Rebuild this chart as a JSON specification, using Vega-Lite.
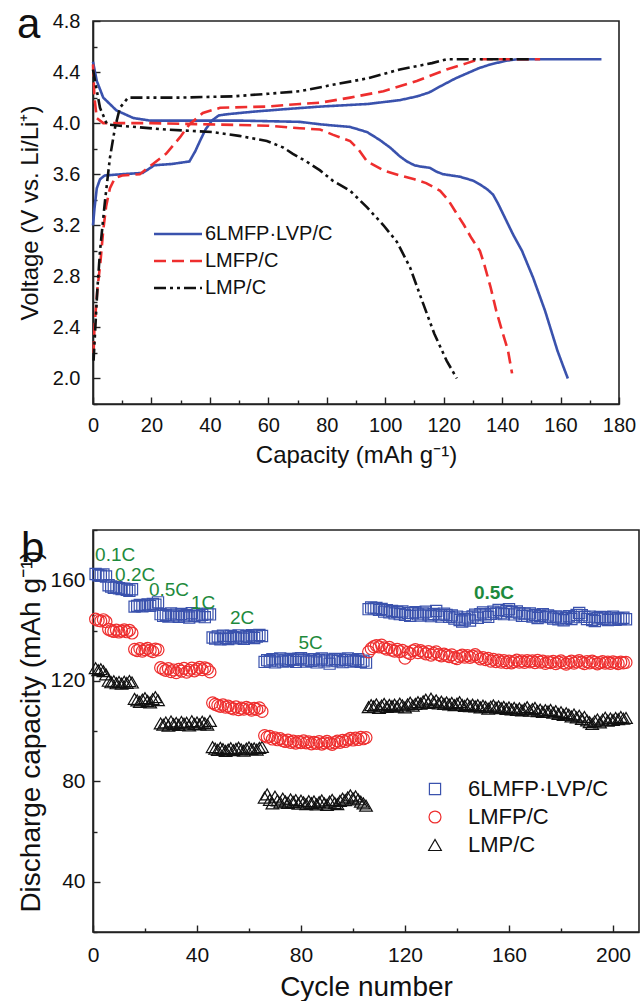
{
"$schema": "https://vega.github.io/schema/vega-lite/v6.json",
"padding": {"left": 16, "top": 3, "right": 0, "bottom": 0},
"spacing": 59,
"resolve": {
  "scale": {"color": "independent", "shape": "independent", "strokeDash": "independent", "size": "independent"},
  "legend": {"color": "independent", "shape": "independent", "strokeDash": "independent", "size": "independent"}
},
"config": {
  "font": "Liberation Sans",
  "view": {"stroke": "#222", "strokeWidth": 1.6},
  "axis": {"domainColor": "#222", "domainWidth": 1.6, "tickColor": "#222", "tickWidth": 1.4, "labelColor": "#111", "titleColor": "#111", "grid": false, "labelFont": "Liberation Sans", "titleFont": "Liberation Sans", "titleFontWeight": "normal"},
  "legend": {"labelFont": "Liberation Sans", "labelColor": "#111"}
},
"vconcat": [
{
  "width": 526, "height": 383,
  "encoding": {
    "x": {"field": "x", "type": "quantitative", "scale": {"domain": [0, 180], "nice": false, "zero": false},
      "axis": {"title": "Capacity (mAh g⁻¹)", "values": [0,10,20,30,40,50,60,70,80,90,100,110,120,130,140,150,160,170,180], "labelExpr": "datum.value % 20 === 0 ? datum.label : ''", "tickSize": {"condition": {"test": "datum.value % 20 === 0", "value": -7}, "value": -4}, "labelPadding": 18, "labelFontSize": 20, "titleFontSize": 24, "titlePadding": 8, "labelFlush": false}},
    "y": {"field": "y", "type": "quantitative", "scale": {"domain": [1.8, 4.8], "nice": false, "zero": false},
      "axis": {"title": "Voltage (V vs. Li/Li⁺)", "values": [1.8,2.0,2.2,2.4,2.6,2.8,3.0,3.2,3.4,3.6,3.8,4.0,4.2,4.4,4.6,4.8], "labelExpr": "round(datum.value*10) % 4 === 0 ? format(datum.value, '.1f') : ''", "tickSize": {"condition": {"test": "round(datum.value*10) % 4 === 0", "value": -7}, "value": -4}, "labelPadding": 20, "labelFontSize": 20, "titleFontSize": 24, "titlePadding": 10, "labelFlush": false}}
  },
  "layer": [
  {
  "data": {"values": [
{"s":"6LMFP·LVP/C","b":"c","i":1,"x":0,"y":3.2},{"s":"6LMFP·LVP/C","b":"c","i":2,"x":0.5,"y":3.33},{"s":"6LMFP·LVP/C","b":"c","i":3,"x":1.3,"y":3.49},{"s":"6LMFP·LVP/C","b":"c","i":4,"x":2.4,"y":3.56},{"s":"6LMFP·LVP/C","b":"c","i":5,"x":4,"y":3.59},{"s":"6LMFP·LVP/C","b":"c","i":6,"x":10,"y":3.6},{"s":"6LMFP·LVP/C","b":"c","i":7,"x":17,"y":3.61},{"s":"6LMFP·LVP/C","b":"c","i":8,"x":19,"y":3.64},{"s":"6LMFP·LVP/C","b":"c","i":9,"x":21,"y":3.67},{"s":"6LMFP·LVP/C","b":"c","i":10,"x":27,"y":3.68},{"s":"6LMFP·LVP/C","b":"c","i":11,"x":33,"y":3.7},{"s":"6LMFP·LVP/C","b":"c","i":12,"x":35,"y":3.78},{"s":"6LMFP·LVP/C","b":"c","i":13,"x":36.6,"y":3.86},{"s":"6LMFP·LVP/C","b":"c","i":14,"x":38.5,"y":3.95},{"s":"6LMFP·LVP/C","b":"c","i":15,"x":40.7,"y":4.02},{"s":"6LMFP·LVP/C","b":"c","i":16,"x":43,"y":4.06},{"s":"6LMFP·LVP/C","b":"c","i":17,"x":46,"y":4.07},{"s":"6LMFP·LVP/C","b":"c","i":18,"x":55,"y":4.09},{"s":"6LMFP·LVP/C","b":"c","i":19,"x":66,"y":4.11},{"s":"6LMFP·LVP/C","b":"c","i":20,"x":78,"y":4.13},{"s":"6LMFP·LVP/C","b":"c","i":21,"x":94,"y":4.15},{"s":"6LMFP·LVP/C","b":"c","i":22,"x":105,"y":4.18},{"s":"6LMFP·LVP/C","b":"c","i":23,"x":111,"y":4.21},{"s":"6LMFP·LVP/C","b":"c","i":24,"x":115,"y":4.24},{"s":"6LMFP·LVP/C","b":"c","i":25,"x":119,"y":4.29},{"s":"6LMFP·LVP/C","b":"c","i":26,"x":124,"y":4.35},{"s":"6LMFP·LVP/C","b":"c","i":27,"x":128,"y":4.39},{"s":"6LMFP·LVP/C","b":"c","i":28,"x":132,"y":4.43},{"s":"6LMFP·LVP/C","b":"c","i":29,"x":136,"y":4.46},{"s":"6LMFP·LVP/C","b":"c","i":30,"x":141.7,"y":4.49},{"s":"6LMFP·LVP/C","b":"c","i":31,"x":145,"y":4.5},{"s":"6LMFP·LVP/C","b":"c","i":32,"x":174,"y":4.5},
{"s":"6LMFP·LVP/C","b":"d","i":1,"x":0,"y":4.48},{"s":"6LMFP·LVP/C","b":"d","i":2,"x":1.3,"y":4.33},{"s":"6LMFP·LVP/C","b":"d","i":3,"x":3.5,"y":4.2},{"s":"6LMFP·LVP/C","b":"d","i":4,"x":8,"y":4.1},{"s":"6LMFP·LVP/C","b":"d","i":5,"x":13.8,"y":4.04},{"s":"6LMFP·LVP/C","b":"d","i":6,"x":19.5,"y":4.02},{"s":"6LMFP·LVP/C","b":"d","i":7,"x":30,"y":4.02},{"s":"6LMFP·LVP/C","b":"d","i":8,"x":50,"y":4.02},{"s":"6LMFP·LVP/C","b":"d","i":9,"x":70.8,"y":4.01},{"s":"6LMFP·LVP/C","b":"d","i":10,"x":78,"y":3.99},{"s":"6LMFP·LVP/C","b":"d","i":11,"x":88,"y":3.97},{"s":"6LMFP·LVP/C","b":"d","i":12,"x":93.8,"y":3.93},{"s":"6LMFP·LVP/C","b":"d","i":13,"x":98,"y":3.87},{"s":"6LMFP·LVP/C","b":"d","i":14,"x":101.6,"y":3.81},{"s":"6LMFP·LVP/C","b":"d","i":15,"x":105,"y":3.74},{"s":"6LMFP·LVP/C","b":"d","i":16,"x":107.4,"y":3.7},{"s":"6LMFP·LVP/C","b":"d","i":17,"x":110,"y":3.67},{"s":"6LMFP·LVP/C","b":"d","i":18,"x":112,"y":3.66},{"s":"6LMFP·LVP/C","b":"d","i":19,"x":115.3,"y":3.65},{"s":"6LMFP·LVP/C","b":"d","i":20,"x":117.5,"y":3.62},{"s":"6LMFP·LVP/C","b":"d","i":21,"x":119.8,"y":3.6},{"s":"6LMFP·LVP/C","b":"d","i":22,"x":125.6,"y":3.58},{"s":"6LMFP·LVP/C","b":"d","i":23,"x":130,"y":3.55},{"s":"6LMFP·LVP/C","b":"d","i":24,"x":132.4,"y":3.52},{"s":"6LMFP·LVP/C","b":"d","i":25,"x":135,"y":3.48},{"s":"6LMFP·LVP/C","b":"d","i":26,"x":136.9,"y":3.44},{"s":"6LMFP·LVP/C","b":"d","i":27,"x":138.6,"y":3.37},{"s":"6LMFP·LVP/C","b":"d","i":28,"x":140.3,"y":3.29},{"s":"6LMFP·LVP/C","b":"d","i":29,"x":143.7,"y":3.13},{"s":"6LMFP·LVP/C","b":"d","i":30,"x":146.8,"y":3.0},{"s":"6LMFP·LVP/C","b":"d","i":31,"x":150.6,"y":2.79},{"s":"6LMFP·LVP/C","b":"d","i":32,"x":154.7,"y":2.53},{"s":"6LMFP·LVP/C","b":"d","i":33,"x":158.9,"y":2.22},{"s":"6LMFP·LVP/C","b":"d","i":34,"x":161,"y":2.09},{"s":"6LMFP·LVP/C","b":"d","i":35,"x":162.5,"y":2.0},
{"s":"LMFP/C","b":"c","i":1,"x":0.2,"y":2.2},{"s":"LMFP/C","b":"c","i":2,"x":0.5,"y":2.4},{"s":"LMFP/C","b":"c","i":3,"x":1.5,"y":2.7},{"s":"LMFP/C","b":"c","i":4,"x":2.5,"y":2.9},{"s":"LMFP/C","b":"c","i":5,"x":3.5,"y":3.16},{"s":"LMFP/C","b":"c","i":6,"x":4.5,"y":3.35},{"s":"LMFP/C","b":"c","i":7,"x":5.8,"y":3.49},{"s":"LMFP/C","b":"c","i":8,"x":7.5,"y":3.57},{"s":"LMFP/C","b":"c","i":9,"x":10,"y":3.59},{"s":"LMFP/C","b":"c","i":10,"x":16,"y":3.6},{"s":"LMFP/C","b":"c","i":11,"x":20.5,"y":3.68},{"s":"LMFP/C","b":"c","i":12,"x":25,"y":3.76},{"s":"LMFP/C","b":"c","i":13,"x":29.8,"y":3.89},{"s":"LMFP/C","b":"c","i":14,"x":33,"y":3.99},{"s":"LMFP/C","b":"c","i":15,"x":37.6,"y":4.08},{"s":"LMFP/C","b":"c","i":16,"x":43.5,"y":4.12},{"s":"LMFP/C","b":"c","i":17,"x":59.5,"y":4.13},{"s":"LMFP/C","b":"c","i":18,"x":70.8,"y":4.15},{"s":"LMFP/C","b":"c","i":19,"x":77.7,"y":4.16},{"s":"LMFP/C","b":"c","i":20,"x":88,"y":4.2},{"s":"LMFP/C","b":"c","i":21,"x":99.4,"y":4.25},{"s":"LMFP/C","b":"c","i":22,"x":110.8,"y":4.33},{"s":"LMFP/C","b":"c","i":23,"x":121,"y":4.42},{"s":"LMFP/C","b":"c","i":24,"x":128,"y":4.47},{"s":"LMFP/C","b":"c","i":25,"x":132,"y":4.5},{"s":"LMFP/C","b":"c","i":26,"x":153,"y":4.5},
{"s":"LMFP/C","b":"d","i":1,"x":0,"y":4.46},{"s":"LMFP/C","b":"d","i":2,"x":0.5,"y":4.2},{"s":"LMFP/C","b":"d","i":3,"x":1.3,"y":4.04},{"s":"LMFP/C","b":"d","i":4,"x":3.5,"y":4.0},{"s":"LMFP/C","b":"d","i":5,"x":20,"y":4.0},{"s":"LMFP/C","b":"d","i":6,"x":40,"y":3.99},{"s":"LMFP/C","b":"d","i":7,"x":60,"y":3.98},{"s":"LMFP/C","b":"d","i":8,"x":70.8,"y":3.96},{"s":"LMFP/C","b":"d","i":9,"x":77.7,"y":3.95},{"s":"LMFP/C","b":"d","i":10,"x":82,"y":3.91},{"s":"LMFP/C","b":"d","i":11,"x":88,"y":3.86},{"s":"LMFP/C","b":"d","i":12,"x":91,"y":3.79},{"s":"LMFP/C","b":"d","i":13,"x":93.8,"y":3.7},{"s":"LMFP/C","b":"d","i":14,"x":99.4,"y":3.63},{"s":"LMFP/C","b":"d","i":15,"x":105,"y":3.59},{"s":"LMFP/C","b":"d","i":16,"x":110,"y":3.56},{"s":"LMFP/C","b":"d","i":17,"x":114,"y":3.53},{"s":"LMFP/C","b":"d","i":18,"x":118.8,"y":3.47},{"s":"LMFP/C","b":"d","i":19,"x":121.5,"y":3.4},{"s":"LMFP/C","b":"d","i":20,"x":124.5,"y":3.29},{"s":"LMFP/C","b":"d","i":21,"x":127,"y":3.2},{"s":"LMFP/C","b":"d","i":22,"x":129.5,"y":3.1},{"s":"LMFP/C","b":"d","i":23,"x":132.4,"y":3.0},{"s":"LMFP/C","b":"d","i":24,"x":133.8,"y":2.9},{"s":"LMFP/C","b":"d","i":25,"x":136,"y":2.72},{"s":"LMFP/C","b":"d","i":26,"x":138,"y":2.53},{"s":"LMFP/C","b":"d","i":27,"x":140,"y":2.37},{"s":"LMFP/C","b":"d","i":28,"x":142,"y":2.22},{"s":"LMFP/C","b":"d","i":29,"x":143.4,"y":2.04},
{"s":"LMP/C","b":"c","i":1,"x":0.2,"y":2.14},{"s":"LMP/C","b":"c","i":2,"x":0.8,"y":2.4},{"s":"LMP/C","b":"c","i":3,"x":1.5,"y":2.7},{"s":"LMP/C","b":"c","i":4,"x":2.4,"y":3.0},{"s":"LMP/C","b":"c","i":5,"x":4.1,"y":3.39},{"s":"LMP/C","b":"c","i":6,"x":5.8,"y":3.73},{"s":"LMP/C","b":"c","i":7,"x":7.5,"y":3.96},{"s":"LMP/C","b":"c","i":8,"x":9.2,"y":4.12},{"s":"LMP/C","b":"c","i":9,"x":12,"y":4.2},{"s":"LMP/C","b":"c","i":10,"x":30,"y":4.2},{"s":"LMP/C","b":"c","i":11,"x":48,"y":4.21},{"s":"LMP/C","b":"c","i":12,"x":60,"y":4.23},{"s":"LMP/C","b":"c","i":13,"x":70.8,"y":4.25},{"s":"LMP/C","b":"c","i":14,"x":82,"y":4.3},{"s":"LMP/C","b":"c","i":15,"x":93.8,"y":4.35},{"s":"LMP/C","b":"c","i":16,"x":105,"y":4.42},{"s":"LMP/C","b":"c","i":17,"x":116,"y":4.47},{"s":"LMP/C","b":"c","i":18,"x":121,"y":4.5},{"s":"LMP/C","b":"c","i":19,"x":150,"y":4.5},
{"s":"LMP/C","b":"d","i":1,"x":0,"y":4.42},{"s":"LMP/C","b":"d","i":2,"x":0.7,"y":4.33},{"s":"LMP/C","b":"d","i":3,"x":2.4,"y":4.12},{"s":"LMP/C","b":"d","i":4,"x":4.8,"y":3.99},{"s":"LMP/C","b":"d","i":5,"x":9.2,"y":3.98},{"s":"LMP/C","b":"d","i":6,"x":25,"y":3.95},{"s":"LMP/C","b":"d","i":7,"x":41,"y":3.93},{"s":"LMP/C","b":"d","i":8,"x":50,"y":3.9},{"s":"LMP/C","b":"d","i":9,"x":59.5,"y":3.86},{"s":"LMP/C","b":"d","i":10,"x":65,"y":3.81},{"s":"LMP/C","b":"d","i":11,"x":68.4,"y":3.76},{"s":"LMP/C","b":"d","i":12,"x":73,"y":3.7},{"s":"LMP/C","b":"d","i":13,"x":77.7,"y":3.63},{"s":"LMP/C","b":"d","i":14,"x":82,"y":3.55},{"s":"LMP/C","b":"d","i":15,"x":88,"y":3.47},{"s":"LMP/C","b":"d","i":16,"x":93.8,"y":3.34},{"s":"LMP/C","b":"d","i":17,"x":99.4,"y":3.2},{"s":"LMP/C","b":"d","i":18,"x":104,"y":3.07},{"s":"LMP/C","b":"d","i":19,"x":108.5,"y":2.87},{"s":"LMP/C","b":"d","i":20,"x":112.6,"y":2.61},{"s":"LMP/C","b":"d","i":21,"x":116.8,"y":2.35},{"s":"LMP/C","b":"d","i":22,"x":121,"y":2.14},{"s":"LMP/C","b":"d","i":23,"x":124.5,"y":2.0}
  ]},
  "mark": {"type": "line", "strokeWidth": 2.6},
  "encoding": {
    "color": {"field": "s", "type": "nominal", "scale": {"domain": ["6LMFP·LVP/C", "LMFP/C", "LMP/C"], "range": ["#3a52ad", "#ee2e2e", "#111111"]},
      "legend": {"title": null, "orient": "none", "legendX": 75, "legendY": 203, "symbolType": "M-4,0H4", "symbolSize": 144, "symbolStrokeWidth": 2.6, "labelFontSize": 20, "labelOffset": 17, "rowPadding": 7,
        "encode": {"symbols": {"update": {"strokeDash": {"signal": "datum.value === 'LMFP/C' ? [12,6] : datum.value === 'LMP/C' ? [12,4,3,4,3,4] : [1,0]"}}}}}},
    "strokeDash": {"field": "s", "type": "nominal", "scale": {"domain": ["6LMFP·LVP/C", "LMFP/C", "LMP/C"], "range": [[1, 0], [12, 6], [12, 4, 3, 4, 3, 4]]}, "legend": null},
    "detail": {"field": "b"},
    "order": {"field": "i"}
  }
  },
  {
    "data": {"values": [{"x": -26, "y": 4.667, "t": "a"}]},
    "mark": {"type": "text", "align": "left", "baseline": "alphabetic", "fontSize": 42, "color": "#111"},
    "encoding": {"text": {"field": "t"}}
  }
  ]
},
{
  "width": 546, "height": 402,
  "encoding": {
    "x": {"field": "c", "type": "quantitative", "scale": {"domain": [0, 210], "nice": false, "zero": false},
      "axis": {"title": "Cycle number", "values": [0,20,40,60,80,100,120,140,160,180,200], "labelExpr": "datum.value % 40 === 0 ? datum.label : ''", "tickSize": {"condition": {"test": "datum.value % 40 === 0", "value": -7}, "value": -4}, "labelPadding": 19, "labelFontSize": 21, "titleFontSize": 28, "titlePadding": 8, "labelFlush": false}},
    "y": {"field": "v", "type": "quantitative", "scale": {"domain": [20, 180], "nice": false, "zero": false},
      "axis": {"title": "Discharge capacity (mAh g⁻¹)", "values": [20,40,60,80,100,120,140,160,180], "labelExpr": "datum.value % 40 === 0 ? datum.label : ''", "tickSize": {"condition": {"test": "datum.value % 40 === 0", "value": -7}, "value": -4}, "labelPadding": 15, "labelFontSize": 21, "titleFontSize": 28, "titlePadding": 4, "labelFlush": false}}
  },
  "layer": [
  {
    "data": {"values": [
{"c":1,"A":162.5,"B":144.5,"K":125},{"c":2,"A":162,"B":144,"K":124.2},{"c":3,"A":161.8,"B":143.8,"K":124.6},{"c":4,"A":162.3,"B":144.3,"K":123.8},{"c":5,"A":161.5,"B":143.5,"K":122.5},
{"c":6,"A":158,"B":140.5,"K":120},{"c":7,"A":157.5,"B":140,"K":119.4},{"c":8,"A":157,"B":139.6,"K":119.8},{"c":9,"A":157.2,"B":140.2,"K":119},{"c":10,"A":156.8,"B":139.4,"K":119.5},{"c":11,"A":156.5,"B":139.8,"K":118.8},{"c":12,"A":156.6,"B":140.3,"K":119.6},{"c":13,"A":156.2,"B":139.5,"K":119.1},{"c":14,"A":155.8,"B":140.1,"K":119.9},{"c":15,"A":156.4,"B":139,"K":119.3},
{"c":16,"A":149.5,"B":132.5,"K":112.8},{"c":17,"A":149.8,"B":132,"K":112.2},{"c":18,"A":150.2,"B":132.8,"K":111.6},{"c":19,"A":149.6,"B":131.8,"K":112.5},{"c":20,"A":150,"B":132.4,"K":113.1},{"c":21,"A":150.4,"B":132.9,"K":112},{"c":22,"A":149.8,"B":132.1,"K":111.4},{"c":23,"A":150.6,"B":131.6,"K":112.7},{"c":24,"A":150.3,"B":132.6,"K":113.5},{"c":25,"A":151.2,"B":132.3,"K":112.3},
{"c":26,"A":146.5,"B":125.2,"K":103},{"c":27,"A":145.8,"B":124.6,"K":102.5},{"c":28,"A":146.2,"B":124.1,"K":103.4},{"c":29,"A":145.5,"B":124.8,"K":102.1},{"c":30,"A":146.8,"B":123.6,"K":103.8},{"c":31,"A":145.9,"B":124.3,"K":102.7},{"c":32,"A":146.3,"B":123.2,"K":103.2},{"c":33,"A":145.4,"B":124.5,"K":102.4},{"c":34,"A":146.6,"B":123.8,"K":103.6},{"c":35,"A":145.7,"B":124.9,"K":102.9},{"c":36,"A":146.1,"B":123.4,"K":103.3},{"c":37,"A":145.2,"B":124.2,"K":102.2},{"c":38,"A":146.9,"B":125,"K":103.9},{"c":39,"A":145.8,"B":123.9,"K":102.8},{"c":40,"A":146.4,"B":124.6,"K":103.4},{"c":41,"A":145.6,"B":125.3,"K":102.6},{"c":42,"A":146.2,"B":124.4,"K":103.7},{"c":43,"A":145.3,"B":125.1,"K":103.1},{"c":44,"A":146.7,"B":124.7,"K":102.5},{"c":45,"A":146.4,"B":123.5,"K":104},
{"c":46,"A":137.2,"B":111.2,"K":93.6},{"c":47,"A":136.8,"B":110.6,"K":93},{"c":48,"A":137.6,"B":110.2,"K":92.5},{"c":49,"A":136.5,"B":109.8,"K":93.3},{"c":50,"A":137.9,"B":110.4,"K":92.8},{"c":51,"A":137.1,"B":109.5,"K":92.1},{"c":52,"A":136.6,"B":109.9,"K":92.6},{"c":53,"A":137.8,"B":109.2,"K":93.2},{"c":54,"A":137.3,"B":108.8,"K":92.4},{"c":55,"A":136.9,"B":109.6,"K":92.9},{"c":56,"A":138,"B":108.5,"K":93.4},{"c":57,"A":137.2,"B":109.1,"K":92.7},{"c":58,"A":136.7,"B":108.7,"K":92.2},{"c":59,"A":137.7,"B":109.4,"K":93},{"c":60,"A":137.4,"B":108.9,"K":93.5},{"c":61,"A":138.1,"B":108.3,"K":92.8},{"c":62,"A":137,"B":109,"K":93.1},{"c":63,"A":137.6,"B":108.6,"K":92.6},{"c":64,"A":138.2,"B":109.2,"K":93.3},{"c":65,"A":137.8,"B":107.8,"K":93.7},
{"c":66,"A":127.5,"B":98.2,"K":73.5},{"c":67,"A":128.2,"B":97.6,"K":74.8},{"c":68,"A":127.8,"B":97.9,"K":72.6},{"c":69,"A":128.6,"B":96.8,"K":71.2},{"c":70,"A":127.3,"B":97.3,"K":73.9},{"c":71,"A":128.1,"B":96.5,"K":72.4},{"c":72,"A":128.9,"B":97,"K":71.6},{"c":73,"A":127.6,"B":96.2,"K":73.1},{"c":74,"A":128.4,"B":95.8,"K":72},{"c":75,"A":127.9,"B":96.4,"K":71.4},{"c":76,"A":128.7,"B":95.5,"K":72.8},{"c":77,"A":128.3,"B":96,"K":71.8},{"c":78,"A":127.5,"B":95.2,"K":72.5},{"c":79,"A":128.8,"B":95.8,"K":71.1},{"c":80,"A":129,"B":95.4,"K":72.3},{"c":81,"A":128.2,"B":96.1,"K":71.6},{"c":82,"A":127.6,"B":95.3,"K":70.9},{"c":83,"A":128.5,"B":95.7,"K":72.1},{"c":84,"A":127.9,"B":94.9,"K":71.3},{"c":85,"A":128.6,"B":95.5,"K":72},{"c":86,"A":127.3,"B":95.1,"K":70.8},{"c":87,"A":128.2,"B":95.8,"K":71.7},{"c":88,"A":128.9,"B":94.8,"K":72.4},{"c":89,"A":127.7,"B":95.3,"K":71.2},{"c":90,"A":128.4,"B":95.9,"K":70.6},{"c":91,"A":126.8,"B":95.2,"K":71.9},{"c":92,"A":128.1,"B":94.7,"K":72.6},{"c":93,"A":128.7,"B":95.4,"K":71.4},{"c":94,"A":127.8,"B":96,"K":70.9},{"c":95,"A":128.5,"B":95.5,"K":72.2},{"c":96,"A":127.4,"B":96.3,"K":73.1},{"c":97,"A":128.3,"B":95.8,"K":72.5},{"c":98,"A":128.9,"B":96.5,"K":73.6},{"c":99,"A":127.6,"B":97.1,"K":74.4},{"c":100,"A":128.2,"B":96.4,"K":73.2},{"c":101,"A":127.9,"B":97.2,"K":74},{"c":102,"A":128.6,"B":96.6,"K":72.8},{"c":103,"A":127.5,"B":97.5,"K":71.9},{"c":104,"A":128,"B":96.9,"K":71.2},{"c":105,"A":127.2,"B":97.4,"K":70.3},
{"c":106,"A":148.5,"B":131.5,"K":109.5},{"c":107,"A":149.2,"B":132.8,"K":110.3},{"c":108,"A":148.8,"B":133.6,"K":109.8},{"c":109,"A":149,"B":134,"K":110.6},{"c":110,"A":148.2,"B":133.5,"K":109.2},{"c":111,"A":148.6,"B":134.2,"K":110.1},{"c":112,"A":147.5,"B":133.1,"K":110.8},{"c":113,"A":148.1,"B":132.6,"K":109.6},{"c":114,"A":147.2,"B":133.3,"K":110.4},{"c":115,"A":147.8,"B":132.2,"K":109.9},
{"c":116,"A":146.8,"B":131.8,"K":110.5},{"c":117,"A":147.4,"B":132.5,"K":109.7},{"c":118,"A":146.5,"B":131.6,"K":110.9},{"c":119,"A":147.6,"B":132.1,"K":110.2},{"c":120,"A":146.2,"B":129,"K":109.4},{"c":121,"A":147,"B":131.3,"K":110.6},{"c":122,"A":145.8,"B":130.8,"K":111.3},{"c":123,"A":146.9,"B":131.9,"K":110.1},{"c":124,"A":147.3,"B":132.4,"K":110.8},{"c":125,"A":146.4,"B":131.2,"K":111.5},
{"c":126,"A":145.9,"B":132,"K":110.9},{"c":127,"A":146.8,"B":131.4,"K":111.8},{"c":128,"A":147.5,"B":130.7,"K":112.5},{"c":129,"A":146.3,"B":131.6,"K":111.2},{"c":130,"A":145.7,"B":130.2,"K":112.9},{"c":131,"A":146.6,"B":130.9,"K":111.6},{"c":132,"A":147.8,"B":131.5,"K":112.2},{"c":133,"A":146.1,"B":130.4,"K":111},{"c":134,"A":145.5,"B":129.9,"K":111.7},{"c":135,"A":146.7,"B":130.6,"K":110.8},
{"c":136,"A":146.2,"B":130.1,"K":111.4},{"c":137,"A":145.4,"B":129.6,"K":110.6},{"c":138,"A":146,"B":130.3,"K":111.2},{"c":139,"A":144.8,"B":129.2,"K":110.3},{"c":140,"A":145.5,"B":128.8,"K":110.9},{"c":141,"A":144.2,"B":129.7,"K":111.5},{"c":142,"A":143.6,"B":130.2,"K":110.4},{"c":143,"A":144.5,"B":129.4,"K":110},{"c":144,"A":145.2,"B":130,"K":110.8},{"c":145,"A":144,"B":129.3,"K":109.9},
{"c":146,"A":145.6,"B":129.8,"K":110.5},{"c":147,"A":146.3,"B":130.4,"K":109.8},{"c":148,"A":145.1,"B":129.5,"K":110.3},{"c":149,"A":146.5,"B":128.7,"K":109.4},{"c":150,"A":147.2,"B":129.2,"K":110.1},{"c":151,"A":146,"B":128.4,"K":109.6},{"c":152,"A":145.4,"B":128.9,"K":108.9},{"c":153,"A":146.6,"B":127.8,"K":109.7},{"c":154,"A":147.5,"B":128.5,"K":110.2},{"c":155,"A":146.8,"B":127.6,"K":109.3},
{"c":156,"A":148.2,"B":128.2,"K":109.8},{"c":157,"A":147.1,"B":127.4,"K":109.1},{"c":158,"A":146.5,"B":128,"K":109.6},{"c":159,"A":147.8,"B":127.2,"K":108.8},{"c":160,"A":148.5,"B":127.8,"K":109.4},{"c":161,"A":147.3,"B":127.1,"K":108.6},{"c":162,"A":146.4,"B":127.6,"K":109.2},{"c":163,"A":147.6,"B":128.2,"K":108.4},{"c":164,"A":146.9,"B":127.4,"K":109},{"c":165,"A":145.8,"B":127.9,"K":108.2},
{"c":166,"A":146.7,"B":127.3,"K":108.8},{"c":167,"A":145.9,"B":128,"K":109.5},{"c":168,"A":146.8,"B":127.5,"K":108.1},{"c":169,"A":145.5,"B":127.9,"K":108.7},{"c":170,"A":146.2,"B":127.2,"K":109.2},{"c":171,"A":145,"B":128.1,"K":107.9},{"c":172,"A":145.8,"B":127.4,"K":108.5},{"c":173,"A":146.5,"B":127.8,"K":107.6},{"c":174,"A":145.3,"B":126.9,"K":108.3},{"c":175,"A":146,"B":127.5,"K":107.8},
{"c":176,"A":145.4,"B":127.2,"K":108.4},{"c":177,"A":144.8,"B":127.7,"K":107.3},{"c":178,"A":145.6,"B":126.8,"K":107.9},{"c":179,"A":144.5,"B":127.4,"K":106.8},{"c":180,"A":145.2,"B":127.9,"K":107.5},{"c":181,"A":144.1,"B":127.1,"K":106.4},{"c":182,"A":145,"B":126.6,"K":107.1},{"c":183,"A":145.7,"B":127.3,"K":106.5},{"c":184,"A":144.6,"B":127.8,"K":105.8},{"c":185,"A":145.3,"B":127,"K":106.6},
{"c":186,"A":146.2,"B":127.5,"K":105.4},{"c":187,"A":147,"B":128,"K":106.1},{"c":188,"A":146.1,"B":127.3,"K":104.8},{"c":189,"A":145.4,"B":126.8,"K":105.6},{"c":190,"A":144.6,"B":127.6,"K":104.2},{"c":191,"A":145.5,"B":127.1,"K":103.5},{"c":192,"A":144.2,"B":127.8,"K":102.8},{"c":193,"A":143.8,"B":127.3,"K":103.9},{"c":194,"A":144.9,"B":126.7,"K":104.6},{"c":195,"A":145.4,"B":127.2,"K":103.4},
{"c":196,"A":144.7,"B":127.6,"K":104.5},{"c":197,"A":145.3,"B":127,"K":105.3},{"c":198,"A":144.2,"B":127.4,"K":104.1},{"c":199,"A":144.8,"B":126.9,"K":105},{"c":200,"A":145.5,"B":127.5,"K":104.4},{"c":201,"A":144.3,"B":127.2,"K":105.2},{"c":202,"A":144.9,"B":126.8,"K":104.7},{"c":203,"A":144.6,"B":127.4,"K":105.6},{"c":204,"A":145.1,"B":127.1,"K":104.9},{"c":205,"A":144.5,"B":127.3,"K":105.2}
    ]},
    "transform": [{"fold": ["A", "B", "K"], "as": ["m", "v"]}],
    "mark": {"type": "point", "filled": false, "strokeWidth": 1.2, "opacity": 1},
    "encoding": {
      "color": {"field": "m", "type": "nominal", "scale": {"domain": ["A", "B", "K"], "range": ["#3a52ad", "#ee2e2e", "#111111"]},
        "legend": {"title": null, "orient": "none", "legendX": 331, "legendY": 248, "symbolSize": 55, "symbolStrokeWidth": 1.2, "labelFontSize": 22, "labelOffset": 22, "rowPadding": 6, "labelExpr": "datum.label === 'A' ? '6LMFP·LVP/C' : datum.label === 'B' ? 'LMFP/C' : 'LMP/C'"}},
      "shape": {"field": "m", "type": "nominal", "scale": {"domain": ["A", "B", "K"], "range": ["square", "circle", "triangle-up"]},
        "legend": {"title": null, "orient": "none", "legendX": 331, "legendY": 248, "symbolSize": 55, "symbolStrokeWidth": 1.2, "labelFontSize": 22, "labelOffset": 22, "rowPadding": 6, "labelExpr": "datum.label === 'A' ? '6LMFP·LVP/C' : datum.label === 'B' ? 'LMFP/C' : 'LMP/C'"}},
      "size": {"field": "m", "type": "nominal", "scale": {"domain": ["A", "B", "K"], "range": [125, 160, 150]}, "legend": null}
    }
  },
  {
    "data": {"values": [
      {"c": 0.8, "v": 170, "t": "0.1C"}, {"c": 8.5, "v": 162, "t": "0.2C"}, {"c": 21.5, "v": 156, "t": "0.5C"},
      {"c": 37.7, "v": 151, "t": "1C"}, {"c": 52.7, "v": 145, "t": "2C"}, {"c": 79, "v": 135, "t": "5C"}
    ]},
    "mark": {"type": "text", "align": "left", "baseline": "middle", "fontSize": 19, "color": "#1e8a3c"},
    "encoding": {"text": {"field": "t"}}
  },
  {
    "data": {"values": [{"c": 146.5, "v": 155, "t": "0.5C"}]},
    "mark": {"type": "text", "align": "left", "baseline": "middle", "fontSize": 19, "fontWeight": "bold", "color": "#1e8a3c"},
    "encoding": {"text": {"field": "t"}}
  },
  {
    "data": {"values": [{"c": -27.7, "v": 167.3, "t": "b"}]},
    "mark": {"type": "text", "align": "left", "baseline": "alphabetic", "fontSize": 42, "color": "#111"},
    "encoding": {"text": {"field": "t"}}
  }
  ]
}
]
}
